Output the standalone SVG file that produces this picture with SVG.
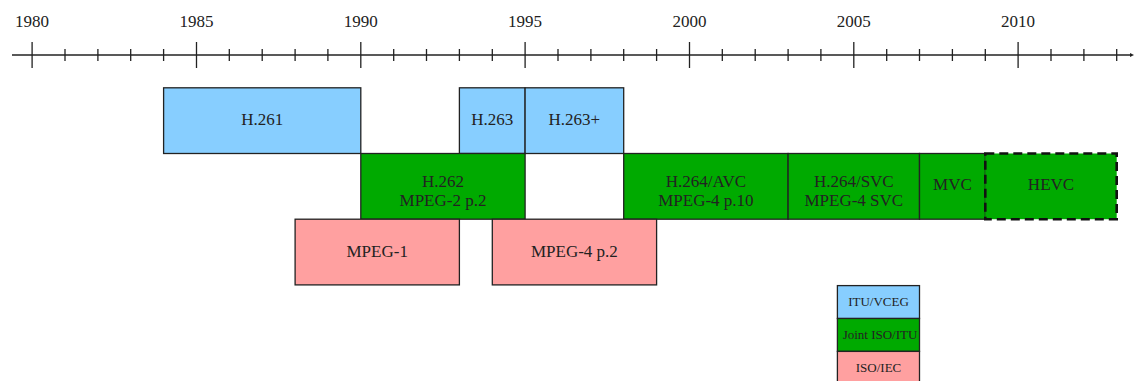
<svg xmlns="http://www.w3.org/2000/svg" width="1136" height="381" viewBox="0 0 1136 381">
<defs>
<marker id="arr" markerWidth="6" markerHeight="6" refX="1" refY="3" orient="auto" markerUnits="userSpaceOnUse">
<path d="M0,1 L4,3 L0,5 Z" fill="#222"/>
</marker>
<style>
text{font-family:'Liberation Serif','DejaVu Serif',serif;fill:#222;text-anchor:middle}
.yr{font-size:17px}
.lb{font-size:17px}
.lg{font-size:13px}
.itu{fill:#87ceff;stroke:#222;stroke-width:1.3}
.jt{fill:#00aa00;stroke:#222;stroke-width:1.3}
.iso{fill:#ffa0a0;stroke:#222;stroke-width:1.3}
.dash{fill:#00aa00;stroke:#111;stroke-width:2.6;stroke-dasharray:9 5}
.ax{stroke:#222;stroke-width:1.3;fill:none}
</style>
</defs>
<rect width="1136" height="381" fill="#fff"/>
<g id="axis">
<line class="ax" x1="12" y1="55" x2="1131" y2="55" marker-end="url(#arr)"/>
<path class="ax" d="M32.1,42V68M196.5,42V68M360.8,42V68M525.1,42V68M689.5,42V68M853.8,42V68M1018.1,42V68"/>
<path class="ax" d="M65,49V61M97.9,49V61M130.7,49V61M163.6,49V61M229.3,49V61M262.2,49V61M295.1,49V61M327.9,49V61M393.7,49V61M426.5,49V61M459.4,49V61M492.3,49V61M558,49V61M590.9,49V61M623.7,49V61M656.6,49V61M722.3,49V61M755.2,49V61M788.1,49V61M820.9,49V61M886.7,49V61M919.5,49V61M952.4,49V61M985.3,49V61M1051,49V61M1083.9,49V61M1116.7,49V61"/>
<g>
<text class="yr" x="32.1" y="27">1980</text>
<text class="yr" x="196.5" y="27">1985</text>
<text class="yr" x="360.8" y="27">1990</text>
<text class="yr" x="525.1" y="27">1995</text>
<text class="yr" x="689.5" y="27">2000</text>
<text class="yr" x="853.8" y="27">2005</text>
<text class="yr" x="1018.1" y="27">2010</text>
</g>
</g>
<g id="connectors"></g>
<g id="h261"><rect class="itu" x="163.6" y="87.8" width="197.2" height="65.7"/><text class="lb" x="262.2" y="124.5">H.261</text></g>
<g id="h263"><rect class="itu" x="459.4" y="87.8" width="65.7" height="65.7"/><text class="lb" x="492.3" y="124.5">H.263</text></g>
<g id="h263plus"><rect class="itu" x="525.1" y="87.8" width="98.6" height="65.7"/><text class="lb" x="574.4" y="124.5">H.263+</text></g>
<g id="h262"><rect class="jt" x="360.8" y="153.5" width="164.3" height="65.7"/><text class="lb" x="443" y="186.5">H.262</text><text class="lb" x="443" y="205.5">MPEG-2 p.2</text></g>
<g id="h264avc"><rect class="jt" x="623.7" y="153.5" width="164.4" height="65.7"/><text class="lb" x="705.9" y="186.5">H.264/AVC</text><text class="lb" x="705.9" y="205.5">MPEG-4 p.10</text></g>
<g id="h264svc"><rect class="jt" x="788.1" y="153.5" width="131.4" height="65.7"/><text class="lb" x="853.8" y="186.5">H.264/SVC</text><text class="lb" x="853.8" y="205.5">MPEG-4 SVC</text></g>
<g id="mvc"><rect class="jt" x="919.5" y="153.5" width="65.8" height="65.7"/><text class="lb" x="952.4" y="190">MVC</text></g>
<g id="hevc"><rect class="dash" x="985.3" y="153.5" width="131.4" height="65.7"/><text class="lb" x="1051" y="190">HEVC</text></g>
<g id="mpeg1"><rect class="iso" x="295.1" y="219.2" width="164.3" height="65.7"/><text class="lb" x="377.2" y="256.5">MPEG-1</text></g>
<g id="mpeg4p2"><rect class="iso" x="492.3" y="219.2" width="164.3" height="65.7"/><text class="lb" x="574.4" y="256.5">MPEG-4 p.2</text></g>
<g id="legend-itu"><rect class="itu" x="837.4" y="285.6" width="82.1" height="32.9"/><text class="lg" x="878.5" y="306.3">ITU/VCEG</text></g>
<g id="legend-joint"><rect class="jt" x="837.4" y="318.5" width="82.1" height="32.9"/><text class="lg" x="880" y="339.3">Joint ISO/ITU</text></g>
<g id="legend-iso"><rect class="iso" x="837.4" y="351.4" width="82.1" height="33"/><text class="lg" x="878.5" y="371.7">ISO/IEC</text></g>
</svg>
